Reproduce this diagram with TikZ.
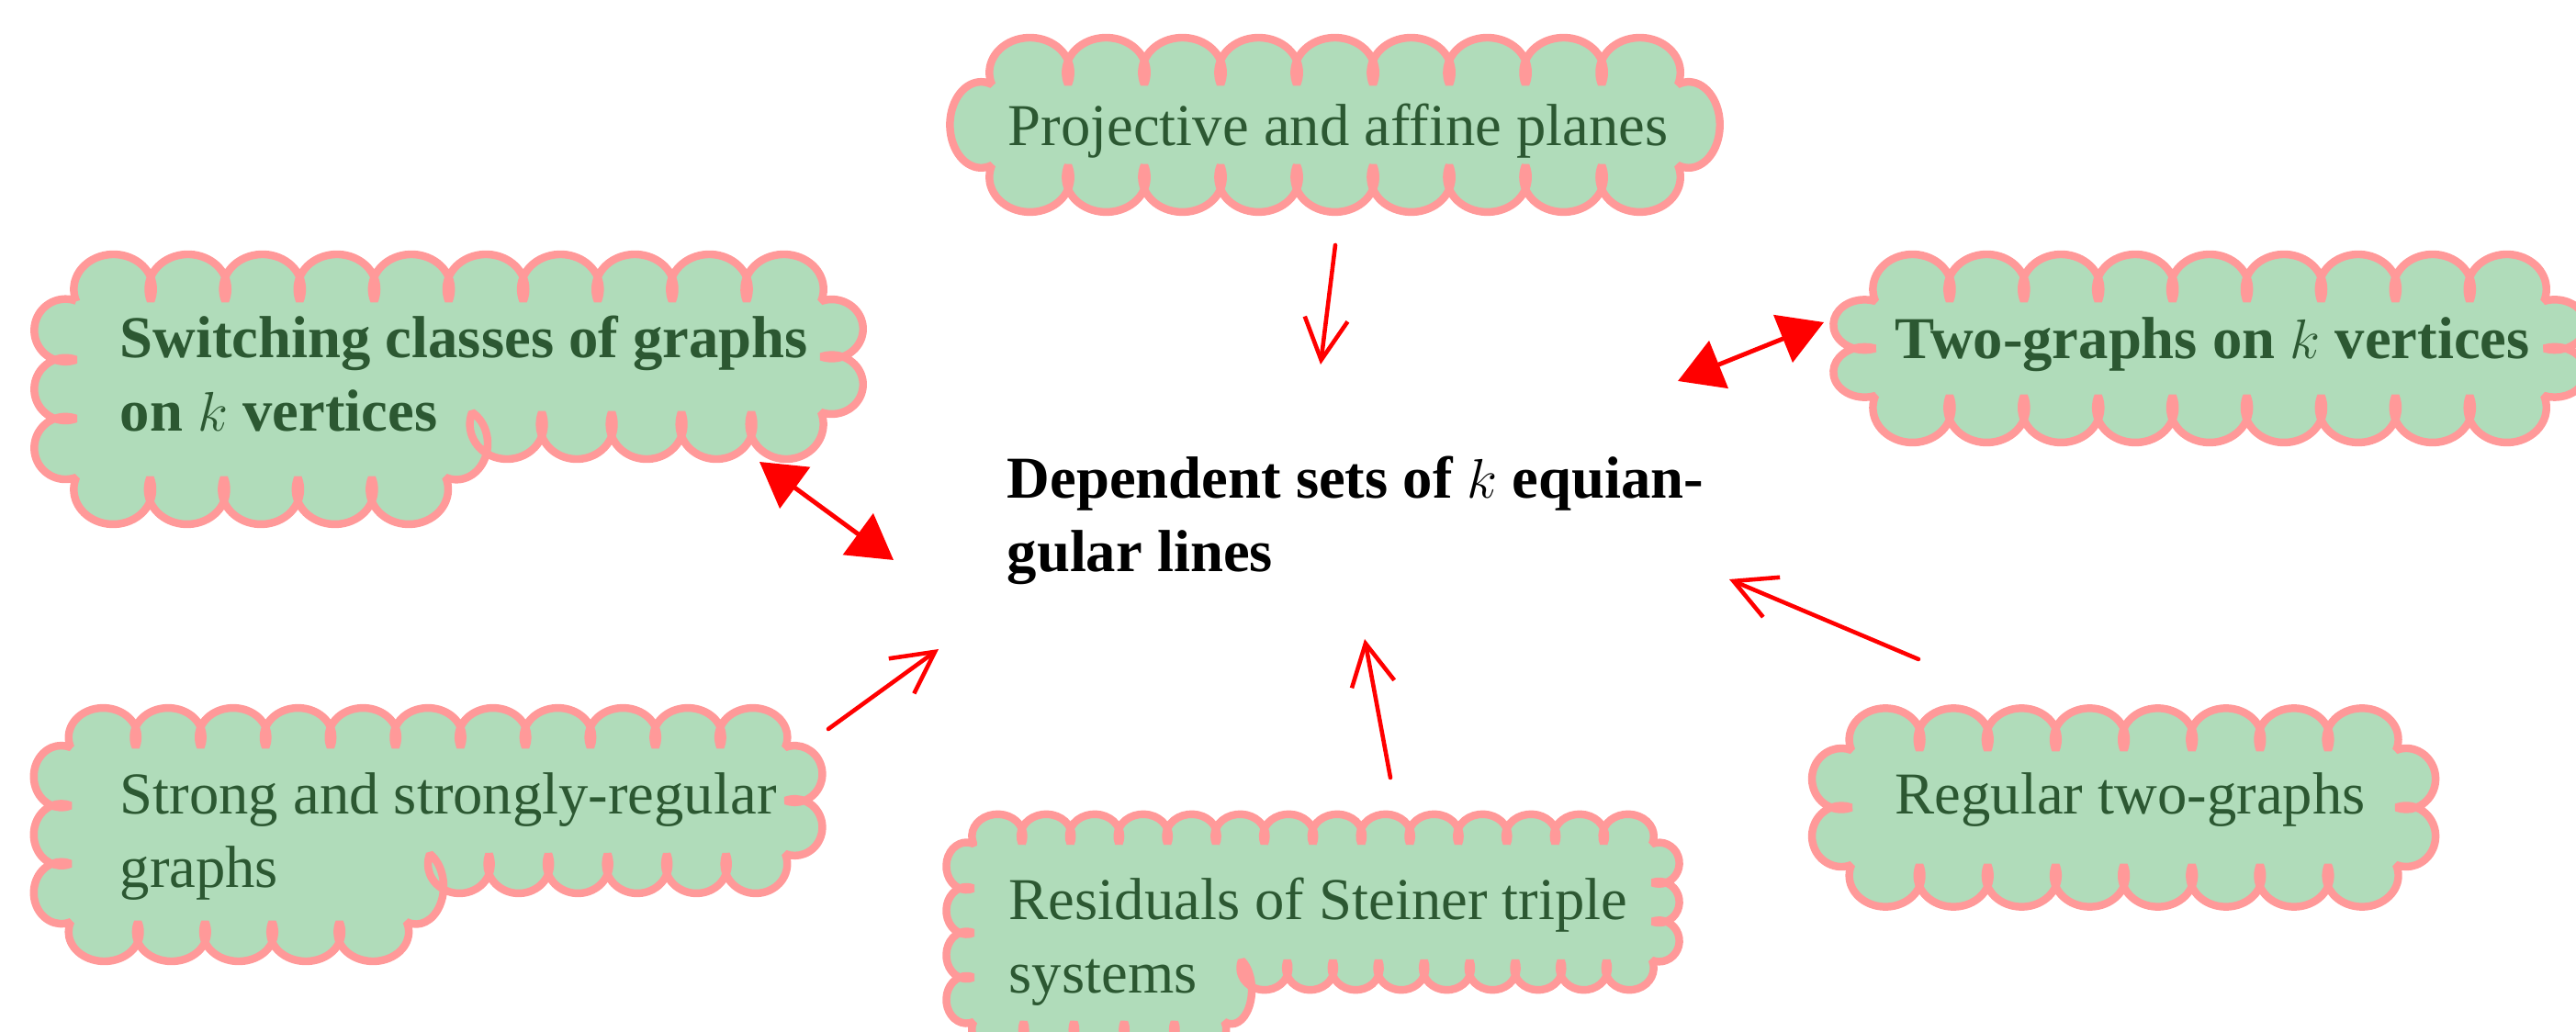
\documentclass[tikz,border=0pt]{standalone}
\usepackage{fontspec}
\setmainfont{Liberation Serif}
\usetikzlibrary{arrows.meta}
\definecolor{cloudfill}{RGB}{176,220,186}
\definecolor{cloudline}{RGB}{255,153,153}
\definecolor{cloudtext}{RGB}{44,88,50}
\newcommand\bumps[4]{foreach \nb in {1,...,#1} {arc[start angle=#2,delta angle=-220,x radius=#3,y radius=#4]}}
\newcommand\stepbump[2]{arc[start angle=60,delta angle=-170,x radius=#1,y radius=#2]}
\begin{document}
\begin{tikzpicture}[line cap=round,line join=round,
 cloud/.style={fill=cloudfill,draw=cloudline,line width=2.4pt,line cap=butt,line join=bevel},
 txt/.style={anchor=base west,inner sep=0pt,align=left,text=cloudtext,font=\fontsize{18.4}{22.8}\selectfont},
 bold/.style={font=\fontsize{18.4}{22.8}\selectfont\bfseries},
 opena/.style={red,line width=1.3pt,-{Straight Barb[length=4.5mm,width=4.7mm]}},
 dbla/.style={red,line width=1.4pt,{Triangle[length=4.8mm,width=5.5mm]}-{Triangle[length=4.8mm,width=5.5mm]}}]
 \useasboundingbox (0,0) rectangle (28.05,-11.24);
 \filldraw[cloud] (10.80,-0.92) \bumps{9}{200}{0.4417}{0.38} \bumps{1}{110}{0.34}{0.468}
  \bumps{9}{20}{0.4417}{0.38} \bumps{1}{-70}{0.34}{0.468} -- cycle;
 \filldraw[cloud] (0.83,-3.28) \bumps{10}{200}{0.4316}{0.38} \bumps{2}{110}{0.34}{0.322}
  \bumps{5}{20}{0.4045}{0.38} \stepbump{0.34}{0.393}
  \bumps{5}{20}{0.4283}{0.38} \bumps{3}{-70}{0.34}{0.341} -- cycle;
 \filldraw[cloud] (20.42,-3.28) \bumps{9}{200}{0.4305}{0.38} \bumps{2}{110}{0.34}{0.274}
  \bumps{9}{20}{0.4305}{0.38} \bumps{2}{-70}{0.34}{0.274} -- cycle;
 \filldraw[cloud] (0.77,-8.14) \bumps{11}{200}{0.3764}{0.32} \bumps{2}{110}{0.30}{0.3087}
  \bumps{6}{20}{0.3433}{0.32} \stepbump{0.30}{0.41}
  \bumps{5}{20}{0.3892}{0.32} \bumps{3}{-70}{0.30}{0.337} -- cycle;
 \filldraw[cloud] (10.60,-9.19) \bumps{14}{200}{0.2809}{0.24} \bumps{3}{110}{0.22}{0.2253}
  \bumps{9}{20}{0.2643}{0.24} \stepbump{0.22}{0.371}
  \bumps{5}{20}{0.2911}{0.24} \bumps{4}{-70}{0.22}{0.258} -- cycle;
 \filldraw[cloud] (20.16,-8.17) \bumps{8}{200}{0.3945}{0.34} \bumps{2}{110}{0.32}{0.3326}
  \bumps{8}{20}{0.3945}{0.34} \bumps{2}{-70}{0.32}{0.3326} -- cycle;
 \node[txt] (proj) at (10.97,-1.59) {Projective and affine planes};
 \node[txt,bold] (switch) at (1.30,-4.70) {Switching classes of graphs\\on $k$ vertices};
 \node[txt,bold] (two) at (20.63,-3.91) {Two-graphs on $k$ vertices};
 \node[txt,bold,text=black] (dep) at (10.96,-6.23) {Dependent sets of $k$ equian-\\gular lines};
 \node[txt] (strong) at (1.30,-9.67) {Strong and strongly-regular\\graphs};
 \node[txt] (resid) at (10.98,-10.82) {Residuals of Steiner triple\\systems};
 \node[txt] (regular) at (20.63,-8.87) {Regular two-graphs};
 \coordinate (proj-s) at (14.54,-2.67);
 \coordinate (dep-n) at (14.38,-3.97);
 \coordinate (switch-se) at (8.27,-5.03);
 \coordinate (dep-nw) at (9.73,-6.10);
 \coordinate (dep-ne) at (18.27,-4.15);
 \coordinate (two-w) at (19.86,-3.51);
 \coordinate (strong-ne) at (9.02,-7.94);
 \coordinate (dep-sw) at (10.22,-7.07);
 \coordinate (resid-n) at (15.14,-8.47);
 \coordinate (dep-s) at (14.86,-6.96);
 \coordinate (regular-nw) at (20.89,-7.18);
 \coordinate (dep-se) at (18.83,-6.31);
 \draw[opena] (proj-s) -- (dep-n);
 \draw[dbla] (switch-se) -- (dep-nw);
 \draw[dbla] (dep-ne) -- (two-w);
 \draw[opena] (strong-ne) -- (dep-sw);
 \draw[opena] (resid-n) -- (dep-s);
 \draw[opena] (regular-nw) -- (dep-se);
\end{tikzpicture}
\end{document}
